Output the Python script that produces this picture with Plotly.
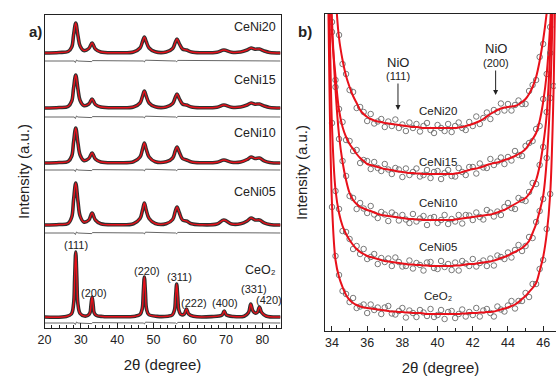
import numpy as np
import plotly.graph_objects as go

# ---------------- Panel a data (relative intensity, a.u.) ----------------
two_theta_ni = [20, 24, 26.5, 27.5, 28.0, 28.6, 29.2, 29.8, 30.8, 32.2, 33.1, 34.0, 35.5, 40, 44.5,
                46.3, 47.0, 47.5, 48.0, 48.8, 50.5, 53.5, 55.3, 56.0, 56.5, 57.1, 58.0, 59.1, 60.5,
                63, 67.5, 69.4, 71.5, 74, 75.8, 76.9, 78.0, 79.2, 80.5, 82, 85]
int_ceni20 = [0, 0.5, 1.5, 6, 18, 30, 17.5, 7, 2.5, 4.5, 10, 4, 1, 0.3, 1,
              5, 11.5, 16, 11.5, 5, 1.2, 1, 4.5, 10.5, 14, 9.5, 4, 3, 1,
              0.3, 0.8, 3, 0.8, 1, 3, 5, 3.8, 4, 2, 0.5, 0]
int_ceni15 = [0, 0.5, 1.5, 7, 20, 33, 19, 7.5, 2.5, 4, 9, 3.5, 1, 0.3, 1,
              5, 12, 17, 12, 5, 1.2, 1, 4.5, 10.5, 14, 9.5, 4, 3, 1,
              0.3, 0.8, 3, 0.8, 1, 3, 5, 3.8, 4, 2, 0.5, 0]
int_ceni10 = [0, 0.5, 1.5, 7, 21, 35, 20, 8, 2.5, 4.5, 10, 4, 1, 0.3, 1.2,
              6, 14, 20, 14, 6, 1.3, 1.2, 5, 12, 16, 11, 4.5, 3, 1,
              0.3, 0.8, 3, 0.8, 1, 3.5, 6, 4.5, 5, 2.2, 0.6, 0]
int_ceni05 = [0, 0.5, 1.5, 8, 25, 42, 24, 9, 3, 5, 12, 5, 1.2, 0.3, 1.3,
              6.5, 15, 22, 15, 6.5, 1.5, 1.3, 5.5, 13.5, 18, 12.5, 5, 4, 1.2,
              0.3, 1, 5, 1, 1.2, 4, 7, 5, 5, 2.2, 0.6, 0]
two_theta_ce = [20, 26, 27.4, 28.0, 28.3, 28.6, 28.9, 29.2, 29.8, 31, 31.9, 32.5, 32.8, 33.1, 33.4,
                33.7, 34.3, 36, 40, 45, 46.3, 46.9, 47.2, 47.5, 47.8, 48.1, 48.7, 51, 54, 55.2,
                55.8, 56.1, 56.4, 56.7, 57.0, 57.6, 58.5, 59.1, 59.7, 61, 66, 68.9, 69.5, 70.1,
                72, 75, 76.2, 76.8, 77.4, 78.0, 78.6, 79.2, 79.8, 81, 85]
int_ceo2 = [0, 0.5, 3, 13, 39, 65, 39, 13, 3.5, 1, 1.5, 4, 12, 20, 12,
            4, 1.5, 0.5, 0.2, 0.8, 2.5, 8, 24, 40, 24, 8, 2.5, 0.6, 0.8, 2,
            7, 20, 33, 20, 7, 2.5, 3, 8, 3, 0.7, 0.4, 2, 6, 2,
            0.5, 0.8, 4.5, 13, 6, 4, 4.5, 10, 4.5, 1, 0]
diff_x = [20, 28.2, 28.5, 28.8, 29.2, 33.0, 33.2, 47.2, 47.5, 47.8, 56.1, 56.4, 56.7, 85]
diff_y = [0, 0, -1.5, 1, 0, -0.6, 0.4, 0, -1, 0.8, 0, -0.8, 0.6, 0]

names_a = ["CeNi20", "CeNi15", "CeNi10", "CeNi05", "CeO₂"]
base_a = [275, 220, 165, 103, 11]
diff_base_a = [267, 211, 158, 95, 5]
label_y_a = [301, 248, 195, 136, 58]

hkl = ["(111)", "(200)", "(220)", "(311)", "(222)", "(400)", "(331)", "(420)"]
hkl_x = [28.8, 33.6, 48.2, 57.1, 61.3, 69.8, 77.8, 81.7]
hkl_y = [83, 35, 57, 51, 25, 25, 39, 28]

# ---------------- Panel b data ----------------
grid_b = [round(34.0 + 0.2 * i, 1) for i in range(64)]
left_x_b = [33.6, 33.8]
right_x_b = [46.8]
fit_b = {
    "CeNi20": [220, 135, 90, 68, 52, 41, 32, 25, 18, 14, 11, 9, 7.5, 6.5, 6, 5,
               4.5, 4, 3.5, 3, 2.5, 2, 1.5, 1, 1, 0.5, 0, 0, 0, 0, 0, 0,
               0, 0, 0, 0, 0.5, 1, 2, 3, 4, 5.5, 7, 9, 11.5, 14, 16, 18,
               19.5, 20.5, 21, 21.5, 22, 23.5, 26, 29, 34, 41, 51, 67, 88, 115, 150, 210],
    "CeNi15": [140, 98, 64, 47, 37, 30, 25, 20, 16, 13, 10, 9, 8, 7, 6, 5,
               4.5, 4, 3, 2.5, 2, 1.5, 1, 1, 0.5, 0.5, 0, 0, 0, 0, 0, 0,
               0, 0, 0, 0.5, 1, 2, 3, 4, 5, 5.5, 6.5, 7.5, 9, 10, 11, 11.5,
               12.5, 14, 15, 16.5, 18, 20, 22, 25, 30, 35, 41, 53, 72, 100, 150, 240],
    "CeNi10": [200, 130, 85, 58, 40, 27, 20, 16, 13, 11.5, 10, 9, 7.5, 6, 5, 4.5,
               4, 3.5, 3, 2.5, 2, 1.5, 1, 1, 0.5, 0.5, 0, 0, 0, 0, 0, 0,
               0, 0, 0, 0.5, 1, 1.5, 2, 2.5, 3, 3.5, 4, 4.5, 5, 5.5, 6.5, 7.5,
               9, 10, 12, 14, 16, 18, 20, 22, 26, 32, 40, 54, 75, 105, 170, 280],
    "CeNi05": [140, 76, 53, 40, 32, 26, 21, 17, 14, 12, 10, 9, 8, 7, 6, 5,
               4.5, 4, 3.5, 3, 2.5, 2, 1.5, 1.5, 1, 1, 0.5, 0.5, 0, 0, 0, 0,
               0, 0, 0, 0.5, 0.5, 1, 1.5, 2, 2, 2.5, 3, 3.5, 4, 4.5, 5.5, 6.5,
               8, 9, 10.5, 12.5, 14, 16, 18, 21, 25, 33, 42, 55, 70, 105, 170, 300],
    "CeO2": [110, 54, 37, 27, 19, 14, 11, 9, 7.5, 6.5, 6, 5.5, 5, 4.5, 4, 3.5,
             3, 2.5, 2.5, 2, 2, 1.5, 1.5, 1, 1, 1, 0.5, 0, 0, 0, 0, 0,
             0, 0, 0, 0, 0, 0.5, 0.5, 1, 1, 1, 1.5, 1.5, 2, 2, 2.5, 3.5,
             4.5, 5.5, 6.5, 8, 9.5, 12, 15, 18, 22, 26, 31, 43, 57, 80, 120, 230],
}
left_b = {"CeNi20": [420, 300], "CeNi15": [450, 250], "CeNi10": [480, 330],
          "CeNi05": [520, 320], "CeO2": [700, 300]}
right_b = {"CeNi20": [320], "CeNi15": [400], "CeNi10": [450], "CeNi05": [500], "CeO2": [450]}
scatter_b = {
    "CeNi20": [0, -3, 3, -4, 2, -3, 4, -5, 3, 2, -4, 5, -3, 0, 3, -4, 2, -2, 5, -3, 1, -5, 4, -1,
               3, -4, 2, 5, -2, -5, 3, 0, -3, 4, -4, 2, 5, -1, -4, 3, -2, 6, -3, 1, 4, -5, 2, -2,
               5, -3, 3, -4, 1, 4, -2, -5, 3, 2, -3, 4, -4, 2, 0, 3],
    "CeNi15": [2, -4, 1, 5, -3, 3, -2, 4, -5, 1, 3, -4, 4, -1, -3, 5, 0, -4, 3, 2, -5, 4, -2, 1,
               5, -3, -1, 4, -4, 2, 3, -5, 1, 4, -2, -3, 5, 0, -4, 3, 2, -5, 4, -1, -3, 5, -2, 1,
               4, -4, 2, -3, 5, -1, -4, 3, 1, -2, 4, -5, 3, 0, -3, 2],
    "CeNi10": [-2, 3, -4, 1, 4, -3, 2, -5, 4, 0, -3, 5, -2, -4, 3, 1, -5, 4, 2, -3, 3, -1, -4, 5,
               -2, 1, 4, -5, 2, 3, -3, 0, 5, -4, 1, -2, 4, -5, 3, 2, -3, 4, -1, -4, 5, 2, -3, 1,
               -4, 3, 5, -2, -5, 4, 0, -3, 2, 5, -4, 1, -2, 3, -3, 4],
    "CeNi05": [3, -1, 4, -5, 2, 1, -4, 3, -2, 5, -3, 0, 4, -5, 2, -1, 3, -4, 5, 1, -3, -2, 4, -4,
               2, 0, -5, 3, 4, -2, -3, 5, -1, 2, -4, 3, -5, 4, 1, -2, 5, -3, 0, 2, -4, 3, -5, 4,
               1, -2, 3, -4, 2, 5, -3, -1, 4, -5, 2, 0, -3, 3, -2, 1],
    "CeO2": [-3, 4, 2, -4, 1, -2, 5, -3, 0, 3, -5, 4, -1, 2, -4, 3, 5, -2, -3, 1, 4, -5, 2, 0,
             -4, 3, 1, -2, 5, -3, -1, 4, -5, 2, 3, -4, 0, 4, -3, 1, -2, 5, -4, 2, 3, -1, -5, 4,
             0, -3, 2, 5, -4, 1, -2, 3, -5, 4, -1, 2, -3, 5, 0, -2],
}
keys_b = ["CeNi20", "CeNi15", "CeNi10", "CeNi05", "CeO2"]
base_b = [204, 158, 112, 66, 18]
label_b = ["CeNi20", "CeNi15", "CeNi10", "CeNi05", "CeO₂"]
label_y_b = [221, 170, 129, 85, 36]

RED = "#e8101a"
DARK = "#222222"
FONT = "Arial"

fig = go.Figure()

# Panel a traces
sets_a = [(two_theta_ni, int_ceni20), (two_theta_ni, int_ceni15), (two_theta_ni, int_ceni10),
          (two_theta_ni, int_ceni05), (two_theta_ce, int_ceo2)]
for (xs, ys), b, db in zip(sets_a, base_a, diff_base_a):
    fig.add_trace(go.Scatter(x=diff_x, y=[v + db for v in diff_y], mode="lines",
                             line=dict(color="#555555", width=0.9), xaxis="x", yaxis="y",
                             hoverinfo="skip", showlegend=False))
    fig.add_trace(go.Scatter(x=xs, y=[v + b for v in ys], mode="lines",
                             line=dict(color="#303030", width=3.6, shape="spline"),
                             xaxis="x", yaxis="y", showlegend=False))
    fig.add_trace(go.Scatter(x=xs, y=[v + b for v in ys], mode="lines",
                             line=dict(color=RED, width=1.4, shape="spline"),
                             xaxis="x", yaxis="y", showlegend=False))

# Panel b traces
for k, b in zip(keys_b, base_b):
    xs = left_x_b + grid_b + right_x_b
    ys = left_b[k] + fit_b[k] + right_b[k]
    obs = [f + s + b for f, s in zip(fit_b[k], scatter_b[k])]
    fig.add_trace(go.Scatter(x=grid_b, y=obs, mode="markers",
                             marker=dict(symbol="circle-open", size=5.5, color="#6a6a6a",
                                         line=dict(width=0.9)),
                             xaxis="x2", yaxis="y2", showlegend=False))
    fig.add_trace(go.Scatter(x=xs, y=[v + b for v in ys], mode="lines",
                             line=dict(color=RED, width=2, shape="spline"),
                             xaxis="x2", yaxis="y2", showlegend=False))

ann = []
for t, y in zip(names_a, label_y_a):
    ann.append(dict(x=84.3, y=y, xref="x", yref="y", text=t, showarrow=False, xanchor="right",
                    font=dict(size=12.5, color=DARK, family=FONT)))
for t, x, y in zip(hkl, hkl_x, hkl_y):
    ann.append(dict(x=x, y=y, xref="x", yref="y", text=t, showarrow=False,
                    font=dict(size=11, color=DARK, family=FONT)))
for t, y in zip(label_b, label_y_b):
    ann.append(dict(x=40.0, y=y, xref="x2", yref="y2", text=t, showarrow=False,
                    font=dict(size=11.5, color=DARK, family=FONT)))
# NiO markers in panel b (arrow drawn from the index label down to the curve)
ann += [
    dict(x=37.75, y=270, xref="x2", yref="y2", text="NiO", showarrow=False,
         font=dict(size=13, color=DARK, family=FONT)),
    dict(x=37.75, y=222, ax=37.75, ay=256, xref="x2", yref="y2", axref="x2", ayref="y2",
         text="(111)", showarrow=True, arrowhead=2, arrowsize=1, arrowwidth=1,
         arrowcolor=DARK, standoff=0, font=dict(size=11, color=DARK, family=FONT)),
    dict(x=43.3, y=284, xref="x2", yref="y2", text="NiO", showarrow=False,
         font=dict(size=13, color=DARK, family=FONT)),
    dict(x=43.3, y=237, ax=43.3, ay=269, xref="x2", yref="y2", axref="x2", ayref="y2",
         text="(200)", showarrow=True, arrowhead=2, arrowsize=1, arrowwidth=1,
         arrowcolor=DARK, standoff=0, font=dict(size=11, color=DARK, family=FONT)),
]
# panel letters
ann += [
    dict(x=20 / 556, y=1 - 21 / 376, xref="paper", yref="paper", text="a)",
         showarrow=False, font=dict(size=15, color=DARK, family=FONT, weight="bold")),
    dict(x=302 / 556, y=1 - 21 / 376, xref="paper", yref="paper", text="b)",
         showarrow=False, font=dict(size=15, color=DARK, family=FONT, weight="bold")),
]

axis_common = dict(showline=True, linecolor=DARK, linewidth=1.2, showgrid=False, zeroline=False,
                   ticks="inside", ticklen=5, tickwidth=1, tickcolor=DARK,
                   tickfont=dict(size=12.5, color=DARK, family=FONT))
title_font = dict(size=15, color=DARK, family=FONT)

fig.update_layout(
    width=556, height=376, margin=dict(l=0, r=0, t=0, b=0),
    paper_bgcolor="white", plot_bgcolor="white", showlegend=False,
    xaxis=dict(domain=[38 / 556, 277 / 556], range=[20, 85], tick0=20, dtick=10, mirror=True,
               title=dict(text="2θ (degree)", font=title_font, standoff=13),
               minor=dict(ticks="inside", ticklen=3, dtick=2, tickcolor=DARK), **axis_common),
    yaxis=dict(domain=[48 / 376, 361 / 376], range=[0, 313], showline=True, linecolor=DARK,
               linewidth=1.2, mirror=True, showticklabels=False, ticks="", showgrid=False,
               zeroline=False, title=dict(text="Intensity (a.u.)", font=title_font, standoff=10)),
    xaxis2=dict(domain=[322 / 556, 1.0], range=[33.6, 46.73], tick0=34, dtick=2, mirror=True,
                anchor="y2", title=dict(text="2θ (degree)", font=title_font, standoff=15),
                minor=dict(ticks="inside", ticklen=3, dtick=1, tickcolor=DARK), **axis_common),
    yaxis2=dict(domain=[45 / 376, 362 / 376], range=[1, 318], anchor="x2", showline=True,
                linecolor=DARK, linewidth=1.2, mirror=False, showticklabels=False, ticks="",
                showgrid=False, zeroline=False,
                title=dict(text="Intensity (a.u.)", font=title_font, standoff=12)),
    annotations=ann,
)

fig.write_html("out.html")
